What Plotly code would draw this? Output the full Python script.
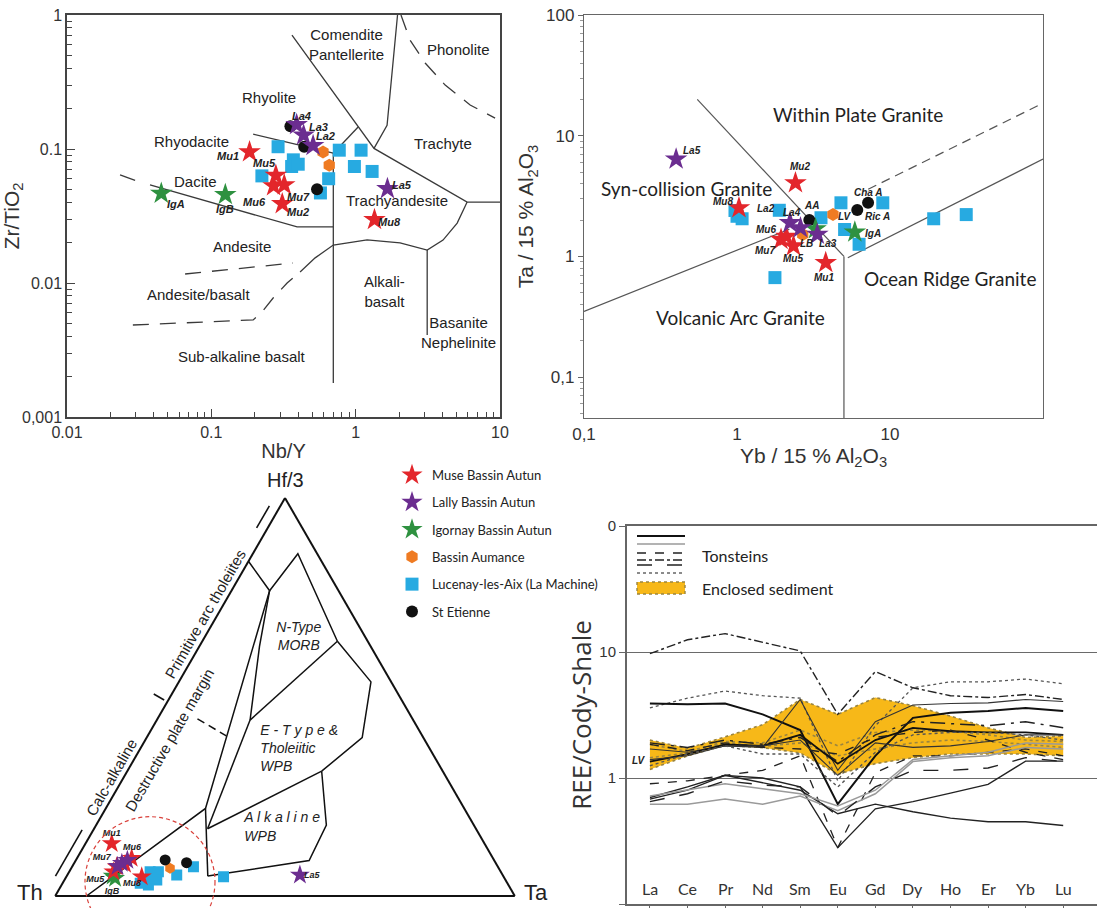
import math
import plotly.graph_objects as go

W, H = 1097, 908
def px(x): return x / W
def py(y): return 1 - y / H

ARIAL = "Liberation Sans, Arial, sans-serif"
MYRIAD = "Lato, 'Open Sans', sans-serif"
INK = "#222222"

# ---------------- sample groups ----------------
GROUP_NAMES = ["Muse Bassin Autun", "Lally Bassin Autun", "Igornay Bassin Autun",
               "Bassin Aumance", "Lucenay-les-Aix (La Machine)", "St Etienne"]
GROUP_COLORS = ["#e3262b", "#6b2d90", "#2e9140", "#ef7b22", "#27aae1", "#111111"]
GROUP_SYMBOLS = ["star", "star", "star", "hexagon", "square", "circle"]

# ---------------- Panel A : Zr/TiO2 vs Nb/Y ----------------
A_MUSE_NBY = [0.184, 0.28, 0.27, 0.32, 0.31, 1.35]
A_MUSE_ZRTI = [0.095, 0.0635, 0.053, 0.054, 0.039, 0.0297]
A_LALLY_NBY = [0.39, 0.436, 0.507, 1.66]
A_LALLY_ZRTI = [0.152, 0.127, 0.106, 0.0505]
A_IGORNAY_NBY = [0.045, 0.125]
A_IGORNAY_ZRTI = [0.0466, 0.0456]
A_AUMANCE_NBY = [0.594, 0.656]
A_AUMANCE_ZRTI = [0.0948, 0.0755]
A_LUCENAY_NBY = [0.29, 0.37, 0.36, 0.40, 0.224, 0.77, 1.09, 0.98, 1.30, 0.65, 0.57]
A_LUCENAY_ZRTI = [0.104, 0.083, 0.074, 0.077, 0.063, 0.098, 0.098, 0.074, 0.068, 0.060, 0.047]
A_STETIENNE_NBY = [0.353, 0.44, 0.54]
A_STETIENNE_ZRTI = [0.148, 0.104, 0.050]

A_SAMPLE_LABELS = ["La4", "La3", "La2", "Mu1", "Mu5", "Mu6", "Mu7", "Mu2", "La5", "Mu8", "IgA", "IgB"]
A_SAMPLE_LABEL_X = [0.422, 0.55, 0.621, 0.1306, 0.2344, 0.20, 0.40, 0.40, 2.08, 1.726, 0.0573, 0.124]
A_SAMPLE_LABEL_Y = [0.176, 0.1466, 0.1247, 0.0885, 0.078, 0.0404, 0.044, 0.034, 0.0537, 0.0283, 0.0388, 0.0354]

A_FIELD_NAMES = ["Comendite<br>Pantellerite", "Phonolite", "Rhyolite", "Rhyodacite", "Trachyte",
                 "Dacite", "Trachyandesite", "Andesite", "Andesite/basalt", "Alkali-<br>basalt",
                 "Sub-alkaline basalt", "Basanite<br>Nephelinite"]
A_FIELD_X = [0.865, 5.14, 0.251, 0.0728, 4.05, 0.078, 1.92, 0.1618, 0.0818, 1.59, 0.1618, 5.14]
A_FIELD_Y = [0.60, 0.555, 0.243, 0.1132, 0.109, 0.0569, 0.0415, 0.0186, 0.00824, 0.00865, 0.00284, 0.00427]

A_SOLID_LINES = [
    ([0.362, 1.34, 5.92, 10.0], [0.709, 0.101, 0.0402, 0.0402]),
    ([1.95, 1.65, 1.34], [1.0, 0.15, 0.101]),
    ([0.70, 1.04], [0.093, 0.146]),
    ([0.195, 0.70], [0.129, 0.093]),
    ([0.70, 0.70], [0.093, 0.00179]),
    ([0.0376, 0.393, 0.70], [0.0539, 0.0262, 0.0262]),
    ([0.412, 0.524, 0.70, 1.2, 2.03, 3.13, 4.03, 5.05, 5.92],
     [0.0121, 0.0154, 0.0192, 0.021, 0.0199, 0.0176, 0.0209, 0.028, 0.0402]),
    ([3.13, 3.13], [0.0176, 0.0041]),
]
A_DASHED_LINES = [
    ([0.0233, 0.032], [0.064, 0.0567]),
    ([0.0658, 0.368], [0.01167, 0.0141]),
    ([0.0286, 0.195, 0.2244, 0.268, 0.335, 0.412], [0.00486, 0.0053, 0.00608, 0.00773, 0.01, 0.0121]),
    ([2.06, 2.38, 3.03, 4.17, 6.21, 9.25], [1.0, 0.65, 0.438, 0.30, 0.213, 0.17]),
]

# ---------------- Panel B : Ta vs Yb ----------------
B_MUSE_YB = [2.41, 1.03, 1.94, 2.1, 2.34, 3.8]
B_MUSE_TA = [4.06, 2.52, 1.38, 1.46, 1.22, 0.887]
B_LALLY_YB = [0.40, 2.22, 3.35, 2.6]
B_LALLY_TA = [6.4, 1.90, 1.52, 1.72]
B_IGORNAY_YB = [5.89, 3.26]
B_IGORNAY_TA = [1.59, 1.69]
B_AUMANCE_YB = [4.24, 2.69]
B_AUMANCE_TA = [2.22, 1.52]
B_LUCENAY_YB = [0.97, 1.0, 1.08, 1.89, 3.54, 4.78, 5.05, 8.97, 6.28, 19.3, 31.5, 1.77]
B_LUCENAY_TA = [2.4, 2.15, 2.05, 2.41, 2.09, 2.78, 1.67, 2.78, 1.26, 2.05, 2.22, 0.667]
B_STETIENNE_YB = [2.97, 6.11, 7.19]
B_STETIENNE_TA = [2.0, 2.42, 2.78]

B_SAMPLE_LABELS = ["La5", "Mu2", "Mu8", "La2", "La4", "AA", "Cha A", "LV", "Ric A", "Mu6",
                   "IgA", "LB", "La3", "Mu7", "Mu5", "Mu1"]
B_SAMPLE_LABEL_X = [0.507, 2.59, 0.807, 1.556, 2.286, 3.08, 7.19, 5.05, 8.26, 1.556,
                    7.73, 2.84, 3.94, 1.514, 2.307, 3.73]
B_SAMPLE_LABEL_Y = [7.57, 5.58, 2.86, 2.477, 2.296, 2.636, 3.4, 2.153, 2.153, 1.671,
                    1.549, 1.279, 1.279, 1.127, 0.957, 0.667]

B_FIELD_NAMES = ["Within Plate Granite", "Syn-collision Granite", "Volcanic Arc Granite", "Ocean Ridge Granite"]
B_FIELD_X = [6.2, 0.468, 1.05, 24.5]
B_FIELD_Y = [14.9, 3.63, 0.31, 0.66]

B_SOLID_LINES = [
    ([0.55, 3.0, 5.0], [20.0, 2.0, 1.0]),
    ([5.0, 5.0], [1.0, 0.04]),
    ([5.3, 100.0], [0.975, 6.4]),
    ([0.1, 2.2], [0.35, 1.68]),
]
B_DASHED_LINES = [([7.2, 100.0], [3.6, 18.6])]

# ---------------- Panel C : Th - Hf/3 - Ta ternary (fractions) ----------------
C_MUSE_HF = [0.132, 0.0947, 0.0736, 0.061, 0.0485, 0.080]
C_MUSE_TA = [0.057, 0.119, 0.097, 0.096, 0.164, 0.112]
C_LALLY_HF = [0.082, 0.090, 0.075, 0.0528]
C_LALLY_TA = [0.104, 0.112, 0.098, 0.506]
C_IGORNAY_HF = [0.0445, 0.050]
C_IGORNAY_TA = [0.108, 0.100]
C_AUMANCE_HF = [0.0696]
C_AUMANCE_TA = [0.215]
C_LUCENAY_HF = [0.061, 0.061, 0.040, 0.0276, 0.0528, 0.0736, 0.0485, 0.032, 0.045]
C_LUCENAY_TA = [0.176, 0.194, 0.201, 0.189, 0.238, 0.264, 0.342, 0.169, 0.185]
C_STETIENNE_HF = [0.0905, 0.0837]
C_STETIENNE_TA = [0.194, 0.244]

C_SAMPLE_LABELS = ["Mu1", "Mu6", "Mu7", "Mu5", "Mu8", "IgB", "La5"]
C_SAMPLE_LABEL_HF = [0.1575, 0.120, 0.097, 0.040, 0.032, 0.0108, 0.050]
C_SAMPLE_LABEL_TA = [0.0445, 0.107, 0.053, 0.067, 0.151, 0.118, 0.533]

C_FIELD_LINES = [
    ([0.0, 0.22, 0.767, 0.841], [0.068, 0.217, 0.083, 0.0]),
    ([0.767, 0.86, 0.64], [0.083, 0.098, 0.294]),
    ([0.767, 0.627, 0.442], [0.083, 0.131, 0.203]),
    ([0.64, 0.442], [0.294, 0.203]),
    ([0.64, 0.538, 0.398, 0.3136], [0.294, 0.418, 0.469, 0.423]),
    ([0.3136, 0.169], [0.423, 0.247]),
    ([0.442, 0.169], [0.203, 0.247]),
    ([0.22, 0.05], [0.217, 0.307]),
    ([0.3136, 0.178, 0.089, 0.05], [0.423, 0.501, 0.508, 0.307]),
]
C_FIELD_DASHED = [([0.445, 0.4025], [0.087, 0.171])]
C_FIELD_NAMES = ["N-Type<br>MORB", "E - T y p e &<br>Tholeiitic<br>WPB", "A l k a l i n e<br>WPB"]
C_FIELD_HF = [0.650, 0.3686, 0.171]
C_FIELD_TA = [0.205, 0.262, 0.326]
C_FIELD_POS = ["middle center", "middle right", "middle right"]

# ---------------- Panel D : REE / Cody-Shale ----------------
REE_ELEMENTS = ["La", "Ce", "Pr", "Nd", "Sm", "Eu", "Gd", "Dy", "Ho", "Er", "Yb", "Lu"]
SED_UPPER = [2.0, 1.72, 2.12, 2.65, 4.2, 3.2, 4.35, 3.75, 3.1, 2.5, 2.1, 2.15]
SED_LOWER = [1.17, 1.5, 1.82, 1.74, 1.58, 1.07, 1.3, 1.45, 1.55, 1.55, 1.55, 1.5]
SED_INNER_1 = [1.85, 1.62, 1.95, 1.9, 2.4, 1.8, 2.3, 2.4, 2.35, 2.2, 2.0, 1.95]
SED_INNER_2 = [1.45, 1.58, 1.9, 1.78, 1.9, 1.5, 1.7, 1.9, 2.0, 1.95, 1.85, 1.75]

TON_01 = [9.7, 12.5, 14.0, 12.0, 10.2, 3.2, 7.0, 5.2, 4.5, 4.35, 4.6, 4.2]
TON_02 = [3.6, 4.3, 4.9, 4.5, 4.3, 0.95, 2.6, 5.2, 5.8, 5.8, 6.1, 5.6]
TON_03 = [3.9, 3.85, 3.9, 3.2, 2.4, 0.62, 1.5, 3.0, 3.3, 3.4, 3.6, 3.4]
TON_04 = [1.7, 1.6, 1.8, 1.75, 4.2, 1.15, 2.8, 3.8, 3.9, 3.95, 4.2, 4.05]
TON_05 = [1.9, 1.75, 2.0, 1.85, 2.1, 1.35, 2.2, 2.8, 2.7, 2.6, 2.8, 2.5]
TON_06 = [1.35, 1.55, 1.85, 1.8, 2.2, 1.3, 2.0, 2.5, 2.35, 2.3, 2.3, 2.2]
TON_07 = [1.4, 1.5, 1.8, 1.8, 2.0, 1.05, 1.9, 1.75, 1.8, 1.95, 2.2, 2.2]
TON_08 = [1.85, 1.65, 1.9, 1.75, 1.7, 1.55, 2.1, 2.3, 2.4, 2.0, 1.6, 1.4]
TON_09 = [1.25, 1.55, 1.8, 1.55, 1.55, 0.85, 1.6, 2.2, 2.3, 2.3, 2.2, 2.0]
TON_10 = [0.9, 0.95, 1.05, 1.15, 1.5, 0.28, 1.1, 1.5, 1.5, 1.6, 1.7, 1.5]
TON_11 = [0.68, 0.8, 1.05, 1.0, 0.85, 0.28, 0.57, 0.65, 0.76, 0.89, 1.36, 1.36]
TON_12 = [0.7, 0.85, 1.05, 0.92, 0.8, 0.52, 0.62, 0.54, 0.48, 0.45, 0.45, 0.42]
TON_13 = [0.62, 0.62, 0.68, 0.62, 0.72, 0.55, 0.75, 1.35, 1.45, 1.5, 1.75, 1.7]
TON_14 = [0.72, 0.8, 0.9, 0.82, 0.75, 0.6, 0.8, 1.4, 1.5, 1.6, 1.9, 1.85]
TON_15 = [0.65, 0.75, 0.95, 0.88, 0.85, 0.5, 0.85, 1.15, 1.15, 1.2, 1.45, 1.35]

TONSTEINS = [
    (TON_01, "#222", 1.4, "dashdot"), (TON_02, "#555", 1.3, "dot"), (TON_03, "#111", 2.0, "solid"),
    (TON_04, "#333", 1.1, "solid"), (TON_05, "#222", 1.5, "longdashdot"), (TON_06, "#111", 1.8, "solid"),
    (TON_07, "#333", 1.1, "solid"), (TON_08, "#222", 1.4, "dash"), (TON_09, "#555", 1.4, "dot"),
    (TON_10, "#222", 1.3, "dash"), (TON_11, "#222", 1.3, "solid"), (TON_12, "#222", 1.4, "solid"),
    (TON_13, "#9a9a9a", 1.5, "solid"), (TON_14, "#9a9a9a", 1.5, "solid"), (TON_15, "#222", 1.4, "longdash"),
]

# ======================================================================
fig = go.Figure()

A_X = [A_MUSE_NBY, A_LALLY_NBY, A_IGORNAY_NBY, A_AUMANCE_NBY, A_LUCENAY_NBY, A_STETIENNE_NBY]
A_Y = [A_MUSE_ZRTI, A_LALLY_ZRTI, A_IGORNAY_ZRTI, A_AUMANCE_ZRTI, A_LUCENAY_ZRTI, A_STETIENNE_ZRTI]
B_X = [B_MUSE_YB, B_LALLY_YB, B_IGORNAY_YB, B_AUMANCE_YB, B_LUCENAY_YB, B_STETIENNE_YB]
B_Y = [B_MUSE_TA, B_LALLY_TA, B_IGORNAY_TA, B_AUMANCE_TA, B_LUCENAY_TA, B_STETIENNE_TA]
C_A = [C_MUSE_HF, C_LALLY_HF, C_IGORNAY_HF, C_AUMANCE_HF, C_LUCENAY_HF, C_STETIENNE_HF]
C_C = [C_MUSE_TA, C_LALLY_TA, C_IGORNAY_TA, C_AUMANCE_TA, C_LUCENAY_TA, C_STETIENNE_TA]

SIZE_BIG = {"star": 17, "hexagon": 13, "square": 13, "circle": 12}
SIZE_SMALL = {"star": 15, "hexagon": 11, "square": 11, "circle": 11}
DRAW_ORDER = [4, 3, 5, 2, 0, 1]

LINE_COL = "#3a3a3a"
for xs, ys in A_SOLID_LINES:
    fig.add_trace(go.Scatter(x=xs, y=ys, mode="lines", line=dict(color=LINE_COL, width=1.3),
                             xaxis="x", yaxis="y", showlegend=False, hoverinfo="skip"))
for xs, ys in A_DASHED_LINES:
    fig.add_trace(go.Scatter(x=xs, y=ys, mode="lines", line=dict(color=LINE_COL, width=1.3, dash="16px,11px"),
                             xaxis="x", yaxis="y", showlegend=False, hoverinfo="skip"))
for xs, ys in B_SOLID_LINES:
    fig.add_trace(go.Scatter(x=xs, y=ys, mode="lines", line=dict(color="#555", width=1.2),
                             xaxis="x2", yaxis="y2", showlegend=False, hoverinfo="skip"))
for xs, ys in B_DASHED_LINES:
    fig.add_trace(go.Scatter(x=xs, y=ys, mode="lines", line=dict(color="#555", width=1.2, dash="9px,6px"),
                             xaxis="x2", yaxis="y2", showlegend=False, hoverinfo="skip"))
for a_s, c_s in C_FIELD_LINES:
    fig.add_trace(go.Scatterternary(a=a_s, c=c_s, b=[1 - a - c for a, c in zip(a_s, c_s)],
                                    mode="lines", line=dict(color="#111", width=1.5),
                                    subplot="ternary", showlegend=False, hoverinfo="skip"))
for a_s, c_s in C_FIELD_DASHED:
    fig.add_trace(go.Scatterternary(a=a_s, c=c_s, b=[1 - a - c for a, c in zip(a_s, c_s)],
                                    mode="lines", line=dict(color="#111", width=1.5, dash="8px,5px"),
                                    subplot="ternary", showlegend=False, hoverinfo="skip"))
fig.add_trace(go.Scatterternary(a=C_FIELD_HF, c=C_FIELD_TA,
                                b=[1 - a - c for a, c in zip(C_FIELD_HF, C_FIELD_TA)],
                                mode="text", text=C_FIELD_NAMES, textposition=C_FIELD_POS,
                                textfont=dict(family=ARIAL, size=14, color=INK, style="italic"),
                                subplot="ternary", showlegend=False, hoverinfo="skip"))

for g in DRAW_ORDER:
    sym = GROUP_SYMBOLS[g]
    fig.add_trace(go.Scatter(x=A_X[g], y=A_Y[g], mode="markers", name=GROUP_NAMES[g],
                             legendgroup=GROUP_NAMES[g], legendrank=g + 1, showlegend=True,
                             marker=dict(symbol=sym, size=SIZE_BIG[sym], color=GROUP_COLORS[g], line=dict(width=0)),
                             xaxis="x", yaxis="y"))
    fig.add_trace(go.Scatter(x=B_X[g], y=B_Y[g], mode="markers", name=GROUP_NAMES[g],
                             legendgroup=GROUP_NAMES[g], showlegend=False,
                             marker=dict(symbol=sym, size=SIZE_BIG[sym], color=GROUP_COLORS[g], line=dict(width=0)),
                             xaxis="x2", yaxis="y2"))
    fig.add_trace(go.Scatterternary(a=C_A[g], c=C_C[g], b=[1 - a - c for a, c in zip(C_A[g], C_C[g])],
                                    mode="markers", name=GROUP_NAMES[g], legendgroup=GROUP_NAMES[g],
                                    showlegend=False, subplot="ternary",
                                    marker=dict(symbol=sym, size=SIZE_SMALL[sym], color=GROUP_COLORS[g],
                                                line=dict(width=0))))

fig.add_trace(go.Scatterternary(a=C_SAMPLE_LABEL_HF, c=C_SAMPLE_LABEL_TA,
                                b=[1 - a - c for a, c in zip(C_SAMPLE_LABEL_HF, C_SAMPLE_LABEL_TA)],
                                mode="text", text=C_SAMPLE_LABELS,
                                textfont=dict(family=ARIAL, size=9, color=INK, style="italic", weight="bold"),
                                subplot="ternary", showlegend=False, hoverinfo="skip"))

# --- panel D : REE
idx = list(range(len(REE_ELEMENTS)))
fig.add_trace(go.Scatter(x=idx, y=SED_LOWER, mode="lines", line=dict(color="#9b8540", width=1.6, dash="dot"),
                         xaxis="x3", yaxis="y3", showlegend=False, hoverinfo="skip"))
fig.add_trace(go.Scatter(x=idx, y=SED_UPPER, mode="lines", line=dict(color="#9b8540", width=1.6, dash="dot"),
                         fill="tonexty", fillcolor="#f7b818",
                         xaxis="x3", yaxis="y3", showlegend=False, hoverinfo="skip"))
for ys in (SED_INNER_1, SED_INNER_2):
    fig.add_trace(go.Scatter(x=idx, y=ys, mode="lines", line=dict(color="#9b8540", width=1.6, dash="dot"),
                             xaxis="x3", yaxis="y3", showlegend=False, hoverinfo="skip"))
for ys, col, wd, ds in TONSTEINS:
    fig.add_trace(go.Scatter(x=idx, y=ys, mode="lines", line=dict(color=col, width=wd, dash=ds),
                             xaxis="x3", yaxis="y3", showlegend=False, hoverinfo="skip"))

# --- ternary overlay decorations (u along base, v = height fraction)
T_U_BRACKETS = [[0.001, 0.059], [0.2147, 0.2373], [0.4383, 0.466]]
T_V_BRACKETS = [[0.05, 0.166], [0.5075, 0.4925], [0.925, 0.98]]
for us, vs in zip(T_U_BRACKETS, T_V_BRACKETS):
    fig.add_trace(go.Scatter(x=us, y=vs, mode="lines", line=dict(color="#111", width=1.6),
                             xaxis="x4", yaxis="y4", showlegend=False, hoverinfo="skip"))

# ======================================================================
ann = []
def lg(v): return math.log10(v)

for t, x, y in zip(A_FIELD_NAMES, A_FIELD_X, A_FIELD_Y):
    ann.append(dict(text=t, x=lg(x), y=lg(y), xref="x", yref="y", showarrow=False,
                    font=dict(family=ARIAL, size=15, color=INK)))
for t, x, y in zip(A_SAMPLE_LABELS, A_SAMPLE_LABEL_X, A_SAMPLE_LABEL_Y):
    ann.append(dict(text=t, x=lg(x), y=lg(y), xref="x", yref="y", showarrow=False,
                    font=dict(family=ARIAL, size=11, color=INK, style="italic", weight="bold")))
for t, x, y in zip(B_FIELD_NAMES, B_FIELD_X, B_FIELD_Y):
    ann.append(dict(text=t, x=lg(x), y=lg(y), xref="x2", yref="y2", showarrow=False,
                    font=dict(family=MYRIAD, size=19, color=INK)))
for t, x, y in zip(B_SAMPLE_LABELS, B_SAMPLE_LABEL_X, B_SAMPLE_LABEL_Y):
    ann.append(dict(text=t, x=lg(x), y=lg(y), xref="x2", yref="y2", showarrow=False,
                    font=dict(family=ARIAL, size=10, color=INK, style="italic", weight="bold")))

for t, u, v, ang, sz in [("Calc-alkaline", 0.1215, 0.299, -60, 15),
                         ("Destructive plate margin", 0.25, 0.392, -60, 15),
                         ("Primitive arc tholeiites", 0.327, 0.71, -60, 15),
                         ("Hf/3", 0.5, 1.045, 0, 20), ("Th", -0.055, 0.01, 0, 22), ("Ta", 1.045, 0.01, 0, 22)]:
    ann.append(dict(text=t, x=u, y=v, xref="x4", yref="y4", showarrow=False, textangle=ang,
                    font=dict(family=ARIAL, size=sz, color=INK)))

for i, el in zip(idx, REE_ELEMENTS):
    ann.append(dict(text=el, x=i, y=py(888), xref="x3", yref="paper", yanchor="middle", showarrow=False,
                    font=dict(family=MYRIAD, size=16, color="#333")))
ann.append(dict(text="LV", x=-0.3, y=lg(1.38), xref="x3", yref="y3", showarrow=False,
                font=dict(family=ARIAL, size=10, color=INK, style="italic", weight="bold")))
ann.append(dict(text="Tonsteins", x=px(700), y=py(555), xref="paper", yref="paper", xanchor="left",
                yanchor="middle", showarrow=False, font=dict(family=MYRIAD, size=16, color=INK)))
ann.append(dict(text="Enclosed sediment", x=px(700), y=py(588), xref="paper", yref="paper", xanchor="left",
                yanchor="middle", showarrow=False, font=dict(family=MYRIAD, size=16, color=INK)))

shapes = []
LEG_ROWS = [(536, "#111", 2.2, "solid"), (544, "#9a9a9a", 1.5, "solid"), (553, "#222", 1.6, "dash"),
            (560, "#222", 1.3, "dashdot"), (565, "#222", 1.3, "longdash"), (573, "#666", 1.3, "dot")]
for yy, col, wd, ds in LEG_ROWS:
    shapes.append(dict(type="line", xref="paper", yref="paper", x0=px(637), x1=px(685), y0=py(yy), y1=py(yy),
                       line=dict(color=col, width=wd, dash=ds)))
shapes.append(dict(type="rect", xref="paper", yref="paper", x0=px(637), x1=px(685), y0=py(594), y1=py(582),
                   fillcolor="#f7b818", line=dict(color="#9b8540", width=1.4, dash="dot")))
shapes.append(dict(type="circle", xref="x4", yref="y4", x0=0.0652, x1=0.3478, y0=-0.1274, y1=0.1992,
                   line=dict(color="#d9413b", width=1.2, dash="4px,3px"), layer="above"))

def minor_vals(lo, hi):
    out = []
    for k in range(lo, hi):
        for d in range(2, 10):
            out.append(d * 10 ** k)
    return out

tern_dom_x = [px(55), px(515)]
tern_dom_y = [py(896), py(498)]
ax_off = dict(visible=False, showgrid=False, zeroline=False, fixedrange=True)
tern_ax = dict(showticklabels=False, ticks="", showgrid=False, linecolor="#111", linewidth=2,
               title=dict(text=""))

fig.update_layout(
    width=W, height=H, margin=dict(l=0, r=0, t=0, b=0),
    paper_bgcolor="white", plot_bgcolor="white",
    font=dict(family=ARIAL, color=INK),
    xaxis=dict(domain=[px(67), px(500)], anchor="y", type="log", range=[-2, 1],
               tickvals=[0.01, 0.1, 1, 10], ticktext=["0.01", "0.1", "1", "10"],
               ticks="inside", ticklen=8, tickcolor="#444",
               minor=dict(tickvals=minor_vals(-2, 1), ticks="inside", ticklen=5, tickcolor="#444"),
               showline=True, linecolor="#444", linewidth=1.5, mirror=True, showgrid=False, zeroline=False,
               tickfont=dict(family=ARIAL, size=16, color="#333"), automargin=False,
               title=dict(text="Nb/Y", font=dict(family=ARIAL, size=20, color="#333"), standoff=4)),
    yaxis=dict(domain=[py(417), py(15)], anchor="x", type="log", range=[-3, 0],
               tickvals=[0.001, 0.01, 0.1, 1], ticktext=["0,001", "0.01", "0.1", "1"],
               ticks="inside", ticklen=8, tickcolor="#444",
               minor=dict(tickvals=minor_vals(-3, 0), ticks="inside", ticklen=5, tickcolor="#444"),
               showline=True, linecolor="#444", linewidth=1.5, mirror=True, showgrid=False, zeroline=False,
               tickfont=dict(family=ARIAL, size=16, color="#333"), automargin=False,
               title=dict(text="Zr/TiO<sub>2</sub>", font=dict(family=ARIAL, size=21, color="#333"), standoff=8)),
    xaxis2=dict(domain=[px(584), px(1043)], anchor="y2", type="log", range=[-1, 2],
                tickvals=[0.1, 1, 10], ticktext=["0,1", "1", "10"], ticks="",
                showline=True, linecolor="#666", linewidth=1.3, mirror=True, showgrid=False, zeroline=False,
                tickfont=dict(family=ARIAL, size=17, color="#333"), automargin=False,
                title=dict(text="Yb / 15 % Al<sub>2</sub>O<sub>3</sub>", font=dict(family=ARIAL, size=21, color="#333"),
                           standoff=4)),
    yaxis2=dict(domain=[py(418), py(15)], anchor="x2", type="log", range=[-1.339, 2],
                tickvals=[0.1, 1, 10, 100], ticktext=["0,1", "1", "10", "100"],
                ticks="outside", ticklen=5, tickcolor="#666",
                minor=dict(tickvals=minor_vals(-2, 2), ticks="outside", ticklen=3, tickcolor="#999"),
                showline=True, linecolor="#666", linewidth=1.3, mirror=True, showgrid=False, zeroline=False,
                tickfont=dict(family=ARIAL, size=17, color="#333"), automargin=False,
                title=dict(text="Ta / 15 % Al<sub>2</sub>O<sub>3</sub>", font=dict(family=ARIAL, size=21, color="#333"),
                           standoff=6)),
    xaxis3=dict(domain=[px(627), 1.0], anchor="y3", range=[-0.61, 11.9],
                tickvals=idx, showticklabels=False, ticks="outside", ticklen=5, tickcolor="#666",
                showline=True, linecolor="#666", linewidth=2, mirror=True, showgrid=False, zeroline=False,
                automargin=False),
    yaxis3=dict(domain=[py(904), py(526)], anchor="x3", type="log", range=[-1, 2],
                tickvals=[0.1, 1, 10, 100], ticktext=["0.1", "1", "10", "0"],
                ticks="outside", ticklen=6, tickcolor="#666",
                showline=True, linecolor="#666", linewidth=2, showgrid=True, gridcolor="#6a6a6a", gridwidth=1.2,
                zeroline=False, tickfont=dict(family=ARIAL, size=15, color="#333"), automargin=False,
                title=dict(text="REE/Cody-Shale", font=dict(family="Open Sans, sans-serif", size=26, color="#333"),
                           standoff=0)),
    xaxis4=dict(domain=[0, 0.52], anchor="y4", range=[-55 / 460, (0.52 * W - 55) / 460], **ax_off),
    yaxis4=dict(domain=[0, py(466)], anchor="x4", range=[-12 / 398, 1 + 32 / 398], **ax_off),
    ternary=dict(
        domain=dict(x=tern_dom_x, y=tern_dom_y), sum=1, bgcolor="rgba(0,0,0,0)",
        aaxis=tern_ax, baxis=tern_ax, caxis=tern_ax,
    ),
    legend=dict(x=px(392), y=py(460), xanchor="left", yanchor="top", bgcolor="rgba(0,0,0,0)",
                font=dict(family=MYRIAD, size=13, color=INK), tracegroupgap=7.4, itemsizing="trace"),
    annotations=ann, shapes=shapes,
)

fig.write_html("out.html", config={"displayModeBar": False},
               post_script="document.body.style.margin='0px';document.body.style.padding='0px';")
